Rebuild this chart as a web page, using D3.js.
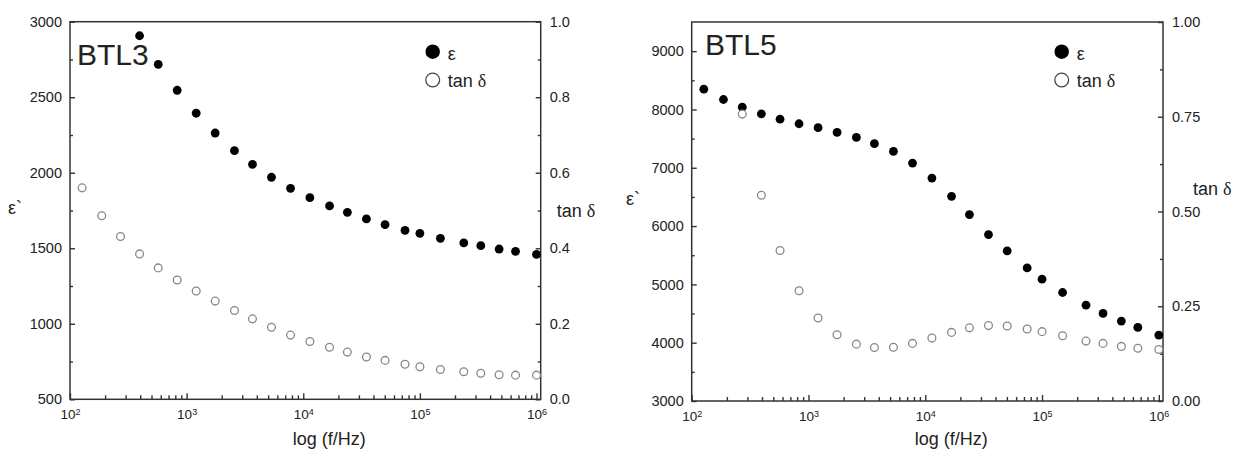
<!DOCTYPE html>
<html>
<head>
<meta charset="utf-8">
<script src="https://cdn.jsdelivr.net/npm/d3@7/dist/d3.min.js"></script>
<style>
  html, body { margin: 0; padding: 0; background: #fff; }
  svg { display: block; }
  text { font-family: "Liberation Sans", Arial, sans-serif; fill: #222; }
</style>
</head>
<body>
<svg id="chart" width="1246" height="450"></svg>
<script>
// ---------------- data ----------------
const freqs = [127, 187, 271, 395, 571, 830, 1208, 1757, 2572, 3670, 5340, 7780,
  11400, 16800, 23900, 34800, 50300, 74600, 100000, 150000, 238000, 333000, 478000, 661000, 1000000];

const btl3Eps = [null, null, null, 2907, 2718, 2546, 2394, 2263, 2146, 2056, 1970, 1897,
  1835, 1780, 1738, 1694, 1657, 1619, 1599, 1566, 1535, 1517, 1495, 1480, 1460];
const btl3Tan = [0.560, 0.486, 0.431, 0.385, 0.348, 0.316, 0.287, 0.260, 0.235, 0.213, 0.191, 0.170,
  0.153, 0.138, 0.125, 0.112, 0.103, 0.093, 0.086, 0.079, 0.073, 0.069, 0.065, 0.064, 0.064];

const btl5Eps = [8348, 8171, 8039, 7926, 7834, 7755, 7687, 7606, 7521, 7413, 7281, 7080,
  6824, 6510, 6197, 5854, 5574, 5283, 5089, 4861, 4644, 4502, 4370, 4262, 4130];
const btl5Tan = [null, null, 0.757, 0.543, 0.397, 0.291, 0.219, 0.175, 0.150, 0.141, 0.142, 0.152,
  0.166, 0.181, 0.193, 0.199, 0.198, 0.190, 0.183, 0.172, 0.158, 0.152, 0.144, 0.139, 0.136];

const xMajorTicks = [1e2, 1e3, 1e4, 1e5, 1e6];
const btl3EpsTicks = [500, 1000, 1500, 2000, 2500, 3000];
const btl3EpsMinor = [750, 1250, 1750, 2250, 2750];
const btl3TanTicks = [0.0, 0.2, 0.4, 0.6, 0.8, 1.0];
const btl3TanMinor = [0.1, 0.3, 0.5, 0.7, 0.9];
const btl5EpsTicks = [3000, 4000, 5000, 6000, 7000, 8000, 9000];
const btl5EpsMinor = [3500, 4500, 5500, 6500, 7500, 8500];
const btl5TanTicks = [0.00, 0.25, 0.50, 0.75, 1.00];
const btl5TanMinor = [0.125, 0.375, 0.625, 0.875];

const panels = [
  { name: "BTL3", eps: btl3Eps, tan: btl3Tan,
    epsDomain: [500, 3000], epsTicks: btl3EpsTicks, epsMinor: btl3EpsMinor,
    tanTicks: btl3TanTicks, tanMinor: btl3TanMinor, tanFmt: ".1f",
    box: { l: 70, r: 540.7, t: 21.7, b: 399.3 },
    nameX: 77, nameY: 65, epsLabel: { x: 8, y: 214 }, tanLabel: { x: 556.7, y: 217 },
    legend: { x: 432.7, y: 51.7 } },
  { name: "BTL5", eps: btl5Eps, tan: btl5Tan,
    epsDomain: [3000, 9500], epsTicks: btl5EpsTicks, epsMinor: btl5EpsMinor,
    tanTicks: btl5TanTicks, tanMinor: btl5TanMinor, tanFmt: ".2f",
    box: { l: 691.7, r: 1163, t: 22, b: 401 },
    nameX: 705, nameY: 55, epsLabel: { x: 626, y: 205 }, tanLabel: { x: 1193, y: 195 },
    legend: { x: 1061.7, y: 51.7 } }
];

const svg = d3.select("#chart");
const axisColor = "#333";

panels.forEach(p => {
  const B = p.box;
  // decade width ~116.7 px, 10^6 sits a few px left of the right frame
  const xMax = Math.pow(10, 2 + 4 * (B.r - B.l) / ((B.r - B.l) - 4.2));
  const x = d3.scaleLog().domain([100, xMax]).range([B.l, B.r]);
  const yL = d3.scaleLinear().domain(p.epsDomain).range([B.b, B.t]);
  const yR = d3.scaleLinear().domain([0, 1]).range([B.b, B.t]);

  const g = svg.append("g");

  // frame
  g.append("rect").attr("x", B.l).attr("y", B.t)
    .attr("width", B.r - B.l).attr("height", B.b - B.t)
    .attr("fill", "none").attr("stroke", axisColor).attr("stroke-width", 1.5);

  const styleAxis = sel => {
    sel.select(".domain").remove();
    sel.selectAll(".tick line").attr("stroke", axisColor).attr("stroke-width", 1.4);
    sel.selectAll(".tick text").attr("fill", "#222")
      .attr("font-family", "'Liberation Sans', Arial, sans-serif").attr("font-size", 14.5);
  };

  // left axis
  g.append("g").attr("transform", `translate(${B.l},0)`)
    .call(d3.axisLeft(yL).tickValues(p.epsTicks).tickSize(-5).tickPadding(8).tickFormat(d3.format("d")))
    .call(styleAxis);
  g.append("g").attr("transform", `translate(${B.l},0)`)
    .call(d3.axisLeft(yL).tickValues(p.epsMinor).tickSize(-3).tickFormat(""))
    .call(styleAxis);

  // right axis
  g.append("g").attr("transform", `translate(${B.r},0)`)
    .call(d3.axisRight(yR).tickValues(p.tanTicks).tickSize(-5).tickPadding(9).tickFormat(d3.format(p.tanFmt)))
    .call(styleAxis);
  g.append("g").attr("transform", `translate(${B.r},0)`)
    .call(d3.axisRight(yR).tickValues(p.tanMinor).tickSize(-3).tickFormat(""))
    .call(styleAxis);

  // bottom axis (log)
  const minorX = [];
  [1e2, 1e3, 1e4, 1e5].forEach(d => { for (let k = 2; k <= 9; k++) minorX.push(d * k); });
  const xg = g.append("g").attr("transform", `translate(0,${B.b})`)
    .call(d3.axisBottom(x).tickValues(xMajorTicks).tickSize(-6).tickPadding(10).tickFormat(() => ""))
    .call(styleAxis);
  xg.selectAll(".tick text").attr("font-size", 13.5).each(function (d) {
    const t = d3.select(this);
    t.append("tspan").text("10");
    t.append("tspan").attr("dy", "-0.45em").attr("font-size", 9).text(Math.round(Math.log10(d)));
  });
  g.append("g").attr("transform", `translate(0,${B.b})`)
    .call(d3.axisBottom(x).tickValues(minorX).tickSize(-4).tickFormat(""))
    .call(styleAxis);

  // x axis title
  g.append("text").attr("x", (B.l + B.r) / 2 + 24).attr("y", 445)
    .attr("text-anchor", "middle").attr("font-size", 18).text("log (f/Hz)");

  // left title ε`
  g.append("text").attr("x", p.epsLabel.x).attr("y", p.epsLabel.y)
    .attr("font-family", "'Liberation Serif', 'Times New Roman', serif").attr("font-size", 18)
    .text("ε`");

  // right title tan δ
  const tt = g.append("text").attr("x", p.tanLabel.x).attr("y", p.tanLabel.y).attr("font-size", 18);
  tt.append("tspan").text("tan ");
  tt.append("tspan").attr("font-family", "'Liberation Serif', 'Times New Roman', serif").text("δ");

  // panel name
  g.append("text").attr("x", p.nameX).attr("y", p.nameY).attr("font-size", 30).text(p.name);

  // eps points (filled)
  const epsPts = freqs.map((f, i) => ({ f, v: p.eps[i] })).filter(d => d.v != null);
  g.append("g").selectAll("circle").data(epsPts).join("circle")
    .attr("cx", d => x(d.f)).attr("cy", d => yL(d.v)).attr("r", 4.4)
    .attr("fill", "#000");

  // tan points (open)
  const tanPts = freqs.map((f, i) => ({ f, v: p.tan[i] })).filter(d => d.v != null);
  g.append("g").selectAll("circle").data(tanPts).join("circle")
    .attr("cx", d => x(d.f)).attr("cy", d => yR(d.v)).attr("r", 3.9)
    .attr("fill", "#fff").attr("stroke", "#888").attr("stroke-width", 1.3);

  // legend
  const L = p.legend;
  g.append("circle").attr("cx", L.x).attr("cy", L.y).attr("r", 7.2).attr("fill", "#000");
  g.append("text").attr("x", L.x + 15).attr("y", L.y + 8)
    .attr("font-family", "'Liberation Serif', 'Times New Roman', serif").attr("font-size", 18).text("ε");
  g.append("circle").attr("cx", L.x).attr("cy", L.y + 28.3).attr("r", 6.9)
    .attr("fill", "#fff").attr("stroke", "#444").attr("stroke-width", 1.3);
  const lt = g.append("text").attr("x", L.x + 15).attr("y", L.y + 35).attr("font-size", 18);
  lt.append("tspan").text("tan ");
  lt.append("tspan").attr("font-family", "'Liberation Serif', 'Times New Roman', serif").text("δ");
});
</script>
</body>
</html>
